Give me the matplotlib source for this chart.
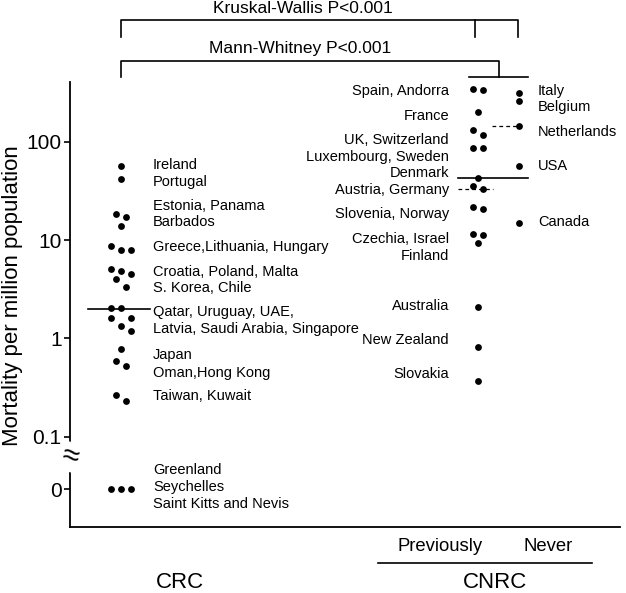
import numpy as np
import matplotlib
matplotlib.use('Agg')
import matplotlib.pyplot as plt

plt.rcParams['font.family'] = ['Liberation Sans', 'DejaVu Sans']

# Mortality per million population (0 = no deaths)
crc_countries = ['Ireland', 'Portugal', 'Estonia', 'Panama', 'Barbados',
                 'Greece', 'Lithuania', 'Hungary', 'Croatia', 'Poland', 'Malta',
                 'S. Korea', 'Chile', 'Qatar', 'Uruguay', 'UAE', 'Latvia',
                 'Saudi Arabia', 'Singapore', 'Japan', 'Oman', 'Hong Kong',
                 'Taiwan', 'Kuwait', 'Greenland', 'Seychelles', 'Saint Kitts and Nevis']
crc_values = [57, 42, 18.2, 17.3, 13.9,
              8.75, 8.0, 7.9, 5.1, 4.84, 4.54,
              4.04, 3.35, 2.02, 2.02, 1.6, 1.61,
              1.33, 1.19, 0.78, 0.59, 0.53,
              0.263, 0.23, 0, 0, 0]
crc_jitter = [0, 0, -1, 1, 0, -2, 0, 2, -2, 0, 2, -1, 1, -2, 0, -2, 2, 0, 2,
              0, -1, 1, -1, 1, -2, 0, 2]

prev_countries = ['Spain', 'Andorra', 'France', 'UK', 'Switzerland',
                  'Luxembourg', 'Sweden', 'Denmark', 'Austria', 'Germany',
                  'Slovenia', 'Norway', 'Czechia', 'Israel', 'Finland',
                  'Australia', 'New Zealand', 'Slovakia']
prev_values = [341, 336, 202, 131, 116, 86, 86, 42.4, 35.7, 33,
               21.8, 20.7, 11.5, 11.3, 9.25, 2.1, 0.82, 0.37]
prev_jitter = [-1, 1, 0, -1, 1, -1, 1, 0, -1, 1, -1, 1, -1, 1, 0, 0, 0, 0]

never_countries = ['Italy', 'Belgium', 'Netherlands', 'USA', 'Canada']
never_values = [315, 261, 145, 56, 15]
never_jitter = [0, 0, 0, 0, 0]

crc_median = 2.0
cnrc_median = 42.4
prev_median = 32.8
never_median = 145

# text labels next to the dots: (text, level on the y scale)
crc_labels = [('Ireland', 58), ('Portugal', 39), ('Estonia, Panama', 22.2),
              ('Barbados', 15.2), ('Greece,Lithuania, Hungary', 8.5),
              ('Croatia, Poland, Malta', 4.7), ('S. Korea, Chile', 3.25),
              ('Qatar, Uruguay, UAE,', 1.85),
              ('Latvia, Saudi Arabia, Singapore', 1.24),
              ('Japan', 0.68), ('Oman,Hong Kong', 0.45), ('Taiwan, Kuwait', 0.26),
              ('Greenland', 0.046), ('Seychelles', 0.031),
              ('Saint Kitts and Nevis', 0.0207)]
prev_labels = [('Spain, Andorra', 328), ('France', 182), ('UK, Switzerland', 104),
               ('Luxembourg, Sweden', 70), ('Denmark', 48),
               ('Austria, Germany', 32.3), ('Slovenia, Norway', 18.4),
               ('Czechia, Israel', 10.2), ('Finland', 6.9), ('Australia', 2.13),
               ('New Zealand', 0.96), ('Slovakia', 0.43)]
never_labels = [('Italy', 328), ('Belgium', 225), ('Netherlands', 125),
                ('USA', 56.6), ('Canada', 15.2)]

ZERO_POS = 0.0294  # where "0" sits below the axis break
X_CRC, X_PREV, X_NEVER = 50.7, 408.3, 449.3
STEP = 5.0


def ypos(vals):
    v = np.array(vals, dtype=float)
    return np.where(v == 0, ZERO_POS, v)


fig = plt.figure(figsize=(6.26, 5.93), dpi=100)
ax = fig.add_axes([70 / 626, 1 - 527.3 / 593, 550 / 626, 445.3 / 593])
ax.set_yscale('log')
ax.set_ylim(0.012, 405)
ax.set_xlim(0, 550)

for xc, vals, jit in [(X_CRC, crc_values, crc_jitter),
                      (X_PREV, prev_values, prev_jitter),
                      (X_NEVER, never_values, never_jitter)]:
    ax.scatter(xc + np.array(jit) * STEP, ypos(vals), s=24, color='black',
               zorder=3, linewidths=0)

# medians
ax.plot([18, 80], [crc_median] * 2, color='black', lw=1.2)
ax.plot([388, 458], [cnrc_median] * 2, color='black', lw=1.2)
ax.plot([388, 423], [prev_median] * 2, color='black', lw=0.9, ls=(0, (3, 2.5)))
ax.plot([422, 449], [never_median] * 2, color='black', lw=0.9, ls=(0, (3, 2.5)))

# country names
for txt, y in crc_labels:
    ax.text(83, y, txt, ha='left', va='center', fontsize=10.5)
for txt, y in prev_labels:
    ax.text(379, y, txt, ha='right', va='center', fontsize=10.5)
for txt, y in never_labels:
    ax.text(468, y, txt, ha='left', va='center', fontsize=10.5)

# axes styling
for s in ['top', 'right']:
    ax.spines[s].set_visible(False)
ax.spines['left'].set_linewidth(1.3)
ax.spines['bottom'].set_linewidth(1.3)
ax.set_xticks([])
ax.set_yticks([ZERO_POS, 0.1, 1, 10, 100])
ax.set_yticklabels(['0', '0.1', '1', '10', '100'])
ax.yaxis.set_minor_locator(matplotlib.ticker.NullLocator())
ax.tick_params(axis='y', length=4, width=1.2, labelsize=15, pad=2)
ax.set_ylabel('Mortality per million population', fontsize=16)
ax.yaxis.set_label_coords(-47 / 550, 0.52)

# axis break mark
ax.text(0, 0.158, '≈', transform=ax.transAxes, ha='center', va='center',
        fontsize=22, rotation=-12,
        bbox=dict(facecolor='white', edgecolor='none', pad=0))

# significance brackets (axes fraction in y)
tr = ax.get_xaxis_transform()
kw = dict(color='black', lw=1.2, transform=tr, clip_on=False)
ax.plot([X_CRC, X_CRC, 448.3, 448.3], [1.100, 1.139, 1.139, 1.100], **kw)
ax.plot([405, 405], [1.139, 1.100], **kw)
ax.plot([X_CRC, X_CRC, 429.3, 429.3], [1.0106, 1.047, 1.047, 1.0106], **kw)
ax.plot([399.3, 458.3], [1.0106, 1.0106], **kw)
ax.text(233, 1.166, 'Kruskal-Wallis P<0.001', transform=tr, ha='center',
        va='center', fontsize=12.5)
ax.text(230, 1.076, 'Mann-Whitney P<0.001', transform=tr, ha='center',
        va='center', fontsize=12.5)

# group labels under the axis
ax.text(370, -0.044, 'Previously', transform=tr, ha='center', va='center', fontsize=13.3)
ax.text(478, -0.044, 'Never', transform=tr, ha='center', va='center', fontsize=13.3)
ax.plot([308, 522], [-0.080, -0.080], **kw)
ax.text(110, -0.123, 'CRC', transform=tr, ha='center', va='center', fontsize=16)
ax.text(425, -0.123, 'CNRC', transform=tr, ha='center', va='center', fontsize=16)

fig.savefig('out.png', dpi=100)
